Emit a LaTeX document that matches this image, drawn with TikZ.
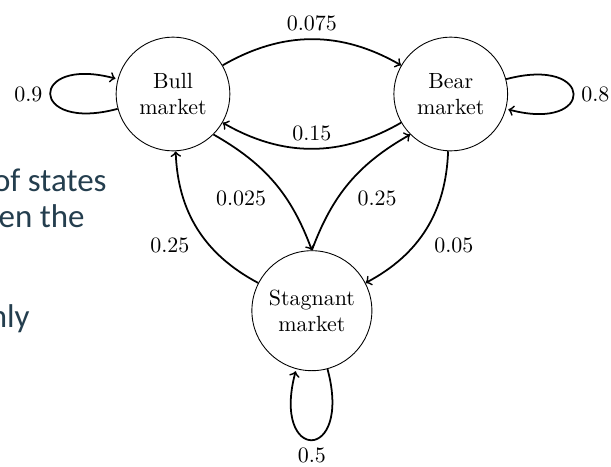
\documentclass[tikz,border=0pt]{standalone}
\usepackage{fontspec}
\usepackage{tikz}
\usetikzlibrary{calc}
\usetikzlibrary{positioning}
\newfontfamily\slidefont{Carlito}
\definecolor{slideblue}{RGB}{36,62,78}

\begin{document}
\begin{tikzpicture}[state/.style={circle,draw,thin,align=center,minimum size=1.82cm},
trans/.style={->,thick},
notes/.style={font=\slidefont\fontsize{15}{18}\selectfont,text=slideblue,anchor=base east,inner sep=0pt}]

\useasboundingbox (-2.768,1.504) rectangle (7.008,-5.952);
\clip (-2.768,1.504) rectangle (7.008,-5.952);

\node[state] (bull) at (0,0) {Bull\\market};
\node[state,right=2.61cm of bull] (bear) {Bear\\market};
\coordinate (mid) at ($(bull)!0.5!(bear)$);
\node[state,below=2.5cm of mid,minimum size=1.92cm] (stag) {Stagnant\\market};

\draw[trans] (bull) to[bend left=30] node[above] (p1) {0.075} (bear);
\draw[trans] (bear) to[bend left=30] node[above] (p2) {0.15} (bull);
\draw[trans] (bull.south east) to[bend left=20] node[below left] (p3) {0.025} (stag.north);
\draw[trans] (stag.north) to[bend left=20] node[below right] (p4) {0.25} (bear.south west);
\draw[trans] (stag) to[bend left=30] node[below left] (p5) {0.25} (bull);
\draw[trans] (bear) to[bend left=30] node[below right] (p6) {0.05} (stag);
\draw[trans] (bull) edge[loop left] node[left] (p7) {0.9} ();
\draw[trans] (bear) edge[loop right] node[right] (p8) {0.8} ();
\draw[trans] (stag) edge[loop below] node[below] (p9) {0.5} ();

\node[notes] (line1) at (-1.056,-1.552) {of states};
\node[notes] (line2) at (-1.408,-2.128) {en the};
\node[notes] (line3) at (-2.288,-3.728) {nly};
\end{tikzpicture}
\end{document}
